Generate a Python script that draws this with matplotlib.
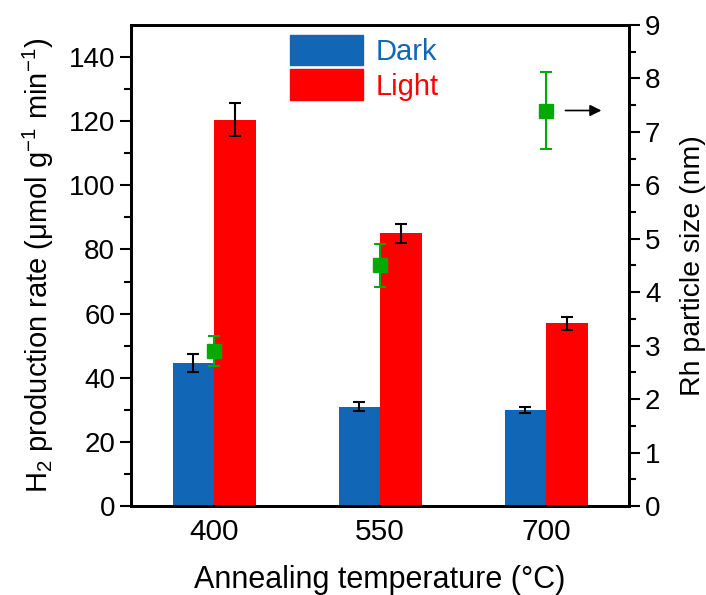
import numpy as np
import matplotlib.pyplot as plt
from matplotlib.patches import Patch

plt.rcParams['font.family'] = ['Liberation Sans', 'DejaVu Sans']
plt.rcParams['mathtext.default'] = 'regular'

temps = ['400', '550', '700']
dark = [44.6, 31.0, 30.0]
dark_err = [2.7, 1.5, 1.0]
light = [120.5, 85.0, 57.0]
light_err = [5.2, 3.0, 2.0]
size = [2.9, 4.5, 7.4]
size_err = [0.28, 0.4, 0.72]

blue = '#1166B5'
red = '#FF0000'
green = '#00AA00'

x = np.arange(1, len(temps) + 1)
w = 0.25

fig = plt.figure(figsize=(7.06, 5.95), dpi=100)
ax = fig.add_axes([0.1856, 0.1496, 0.7054, 0.8084])
ax2 = ax.twinx()

ax.bar(x - w / 2, dark, w, color=blue, zorder=2)
ax.bar(x + w / 2, light, w, color=red, zorder=2)
ax.errorbar(x - w / 2, dark, yerr=dark_err, fmt='none', ecolor='black',
            elinewidth=1.5, capsize=4, capthick=1.5, zorder=3)
ax.errorbar(x + w / 2, light, yerr=light_err, fmt='none', ecolor='black',
            elinewidth=1.5, capsize=4, capthick=1.5, zorder=3)

ax2.errorbar(x, size, yerr=size_err, fmt='s', color=green, ms=10,
             elinewidth=1.5, capsize=4, capthick=1.5)
ax2.annotate('', xy=(3.35, size[2]), xytext=(3.10, size[2]),
             arrowprops=dict(arrowstyle='-|>', color='black', lw=1.2,
                             mutation_scale=17))

ax.set_xlim(0.5, 3.5)
ax.set_ylim(0, 150)
ax2.set_ylim(0, 9)
ax.set_xticks(x)
ax.set_xticklabels(temps)
ax.set_yticks(np.arange(0, 141, 20))
ax.set_yticks(np.arange(10, 150, 20), minor=True)
ax2.set_yticks(np.arange(0, 10, 1))
ax2.set_yticks(np.arange(0.5, 9, 1), minor=True)

ax.tick_params(axis='x', length=0, labelsize=21.5, pad=9)
ax.tick_params(axis='y', which='major', direction='out', length=8, width=1.5,
               labelsize=20)
ax.tick_params(axis='y', which='minor', direction='out', length=5, width=1.5)
ax2.tick_params(axis='y', which='major', direction='out', length=8, width=1.5,
                labelsize=20)
ax2.tick_params(axis='y', which='minor', direction='out', length=5, width=1.5)

for a in (ax, ax2):
    for s in a.spines.values():
        s.set_linewidth(2)

ax.set_xlabel('Annealing temperature (°C)', fontsize=22, labelpad=13)
ax.set_ylabel('H$_2$ production rate (μmol g$^{-1}$ min$^{-1}$)',
              fontsize=21, labelpad=9)
ax2.set_ylabel('Rh particle size (nm)', fontsize=20.5, labelpad=14)

handles = [Patch(color=blue), Patch(color=red)]
leg = ax.legend(handles, ['Dark', 'Light'], loc='upper left',
                bbox_to_anchor=(0.319, 0.98), frameon=False, fontsize=21,
                handlelength=2.5, handleheight=1.25, labelspacing=0.12,
                handletextpad=0.45, borderpad=0, borderaxespad=0)
for t, c in zip(leg.get_texts(), [blue, red]):
    t.set_color(c)

fig.savefig('out.png', dpi=100)
